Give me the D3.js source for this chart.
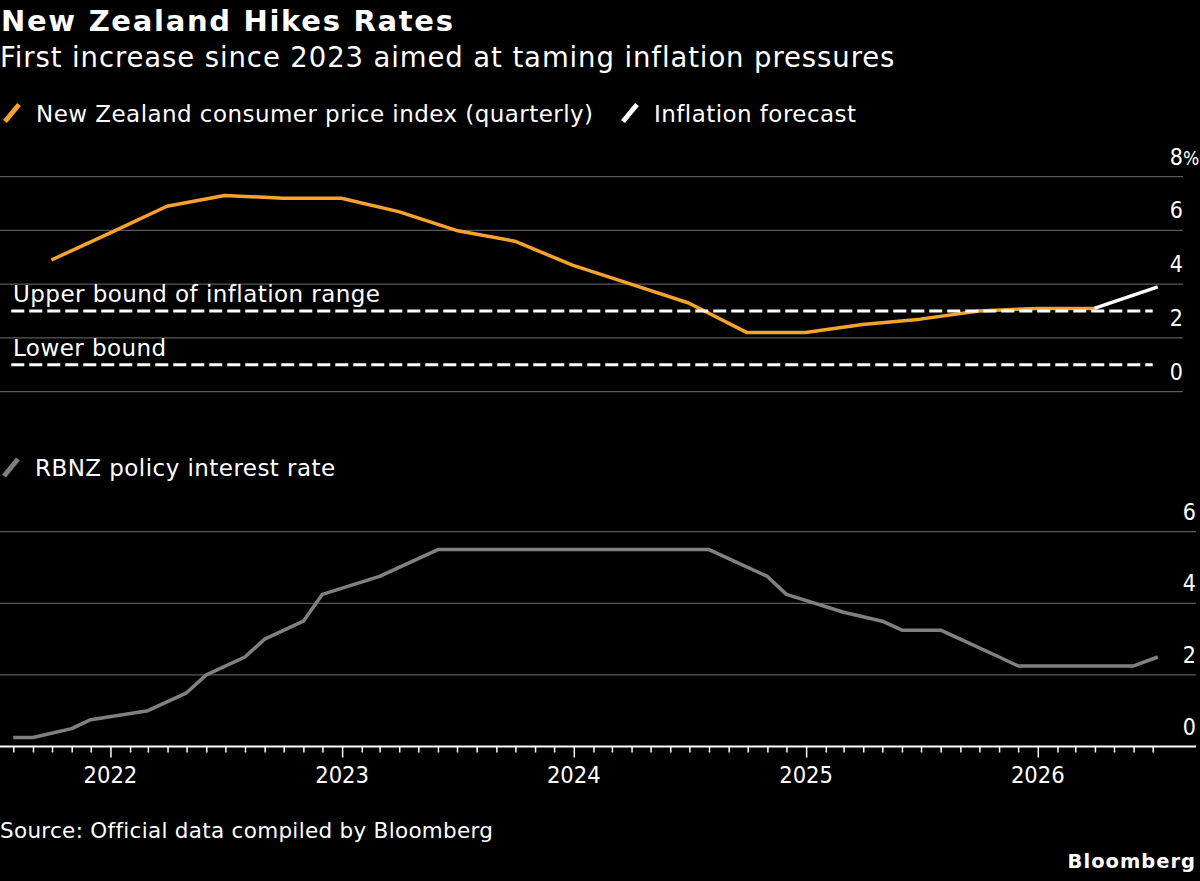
<!DOCTYPE html>
<html>
<head>
<meta charset="utf-8">
<script src="https://d3js.org/d3.v7.min.js"></script>
<style>
  body { margin: 0; background: #000; }
  svg { display: block; }
  text { font-family: "DejaVu Sans", sans-serif; fill: #fff; }
  .tick-label { font-family: "DejaVu Sans Condensed", "DejaVu Sans", sans-serif; }
</style>
</head>
<body>
<script>
// ---- data ----
const cpiDates = ["2021-09-30", "2021-12-31", "2022-03-31", "2022-06-30", "2022-09-30", "2022-12-31",
                  "2023-03-31", "2023-06-30", "2023-09-30", "2023-12-31", "2024-03-31", "2024-06-30",
                  "2024-09-30", "2024-12-31", "2025-03-31", "2025-06-30", "2025-09-30", "2025-12-31",
                  "2026-03-31"];
const cpiValues = [4.9, 5.9, 6.9, 7.3, 7.2, 7.2, 6.7, 6.0, 5.6, 4.7, 4.0, 3.3,
                   2.2, 2.2, 2.5, 2.7, 3.0, 3.1, 3.1];

const forecastDates = ["2026-03-31", "2026-07-09"];
const forecastValues = [3.1, 3.9];

const ocrDates = ["2021-08-01", "2021-09-01", "2021-11-01", "2021-12-01", "2022-03-01", "2022-05-01",
                  "2022-06-01", "2022-08-01", "2022-09-01", "2022-11-01", "2022-12-01", "2023-03-01",
                  "2023-05-01", "2023-06-01", "2024-08-01", "2024-09-01", "2024-11-01", "2024-12-01",
                  "2025-03-01", "2025-05-01", "2025-06-01", "2025-08-01", "2025-09-01", "2025-11-01",
                  "2025-12-01", "2026-06-01", "2026-07-09"];
const ocrValues = [0.25, 0.25, 0.5, 0.75, 1.0, 1.5,
                   2.0, 2.5, 3.0, 3.5, 4.25, 4.75,
                   5.25, 5.5, 5.5, 5.25, 4.75, 4.25,
                   3.75, 3.5, 3.25, 3.25, 3.0, 2.5,
                   2.25, 2.25, 2.5];

const bandValues = [3, 1];
const bandLabels = ["Upper bound of inflation range", "Lower bound"];

const topTicks = [0, 2, 4, 6, 8];
const bottomTicks = [0, 2, 4, 6];
const yearLabels = ["2022", "2023", "2024", "2025", "2026"];

const orange = "#f7a12f";
const grey = "#808080";
const gridColor = "#5a5a5a";

// ---- setup ----
const svg = d3.select("body").append("svg")
  .attr("width", 1200)
  .attr("height", 881);

svg.append("rect").attr("width", 1200).attr("height", 881).attr("fill", "#000");

const parse = d3.utcParse("%Y-%m-%d");
const zip = (dates, values) => dates.map((d, i) => ({ date: parse(d), value: values[i] }));

const cpi = zip(cpiDates, cpiValues);
const forecast = zip(forecastDates, forecastValues);
const ocr = zip(ocrDates, ocrValues);

const x = d3.scaleUtc()
  .domain([parse("2021-08-01"), parse("2026-07-01")])
  .range([13.3, 1152.7]);

const yTop = d3.scaleLinear().domain([0, 8]).range([391.7, 176.7]);
const yBottom = d3.scaleLinear().domain([0, 6]).range([746.5, 531.7]);

// ---- header ----
svg.append("text")
  .attr("x", 1).attr("y", 31)
  .attr("font-size", 29).attr("font-weight", "bold").attr("letter-spacing", 1.7)
  .text("New Zealand Hikes Rates");

svg.append("text")
  .attr("x", 0).attr("y", 66.7)
  .attr("font-size", 27.5).attr("letter-spacing", 0.9)
  .text("First increase since 2023 aimed at taming inflation pressures");

function legendItem(x0, y0, color, label) {
  svg.append("line")
    .attr("x1", x0 + 3).attr("y1", y0)
    .attr("x2", x0 + 17).attr("y2", y0 - 17)
    .attr("stroke", color).attr("stroke-width", 5);
  svg.append("text")
    .attr("x", x0 + 34).attr("y", y0)
    .attr("font-size", 23).attr("letter-spacing", 0.45)
    .text(label);
}

legendItem(2, 121.5, orange, "New Zealand consumer price index (quarterly)");
legendItem(620, 121.5, "#fff", "Inflation forecast");
legendItem(1, 476, grey, "RBNZ policy interest rate");

// ---- top panel: inflation ----
const topPanel = svg.append("g");

topPanel.selectAll(".grid")
  .data(topTicks)
  .join("line")
  .attr("x1", 0).attr("x2", 1183)
  .attr("y1", d => yTop(d)).attr("y2", d => yTop(d))
  .attr("stroke", gridColor).attr("stroke-width", 1.3);

topPanel.selectAll(".ylab")
  .data(topTicks)
  .join("text")
  .attr("class", "tick-label")
  .attr("x", 1183).attr("y", d => yTop(d) - 12)
  .attr("text-anchor", "end")
  .attr("font-size", 23)
  .text(d => d);

topPanel.append("text")
  .attr("class", "tick-label")
  .attr("x", 1183).attr("y", yTop(8) - 12)
  .attr("font-size", 19)
  .text("%");

const lineTop = d3.line().x(d => x(d.date)).y(d => yTop(d.value));

topPanel.append("path")
  .datum(cpi)
  .attr("d", lineTop)
  .attr("fill", "none").attr("stroke", orange).attr("stroke-width", 3.5)
  .attr("stroke-linejoin", "round");

topPanel.append("path")
  .datum(forecast)
  .attr("d", lineTop)
  .attr("fill", "none").attr("stroke", "#fff").attr("stroke-width", 3.5)
  .attr("stroke-linejoin", "round");

topPanel.selectAll(".band")
  .data(bandValues)
  .join("line")
  .attr("x1", x.range()[0] - 2).attr("x2", x.range()[1])
  .attr("y1", d => yTop(d)).attr("y2", d => yTop(d))
  .attr("stroke", "#fff").attr("stroke-width", 3)
  .attr("stroke-dasharray", "13,5");

topPanel.selectAll(".bandlab")
  .data(bandValues)
  .join("text")
  .attr("x", 13).attr("y", d => yTop(d) - 9)
  .attr("font-size", 23).attr("letter-spacing", 0.45)
  .text((d, i) => bandLabels[i]);

// ---- bottom panel: policy rate ----
const bottomPanel = svg.append("g");

bottomPanel.selectAll(".grid")
  .data(bottomTicks.filter(d => d > 0))
  .join("line")
  .attr("x1", 0).attr("x2", 1196)
  .attr("y1", d => yBottom(d)).attr("y2", d => yBottom(d))
  .attr("stroke", gridColor).attr("stroke-width", 1.3);

bottomPanel.selectAll(".ylab")
  .data(bottomTicks)
  .join("text")
  .attr("class", "tick-label")
  .attr("x", 1196).attr("y", d => yBottom(d) - 12)
  .attr("text-anchor", "end")
  .attr("font-size", 23)
  .text(d => d);

const lineBottom = d3.line().x(d => x(d.date)).y(d => yBottom(d.value));

bottomPanel.append("path")
  .datum(ocr)
  .attr("d", lineBottom)
  .attr("fill", "none").attr("stroke", grey).attr("stroke-width", 3.5)
  .attr("stroke-linejoin", "round");

// x axis
const axisG = svg.append("g").attr("transform", `translate(0,${yBottom(0)})`);

axisG.call(d3.axisBottom(x).ticks(d3.utcMonth.every(1)).tickSize(6).tickFormat(""));
axisG.select(".domain").remove();
axisG.selectAll(".tick line")
  .attr("stroke", "#fff").attr("stroke-width", 1.5)
  .attr("y2", d => d.getUTCMonth() === 0 ? 11 : 6);

axisG.append("line")
  .attr("x1", 0).attr("x2", 1196)
  .attr("stroke", "#fff").attr("stroke-width", 2);

axisG.selectAll(".year")
  .data(yearLabels)
  .join("text")
  .attr("class", "tick-label")
  .attr("x", d => x(parse(d + "-01-01")))
  .attr("y", 36.5)
  .attr("text-anchor", "middle")
  .attr("font-size", 23.5)
  .text(d => d);

// ---- footer ----
svg.append("text")
  .attr("x", 0).attr("y", 838)
  .attr("font-size", 21.5).attr("letter-spacing", 0.3)
  .text("Source: Official data compiled by Bloomberg");

svg.append("text")
  .attr("x", 1196).attr("y", 868)
  .attr("text-anchor", "end")
  .attr("font-size", 19.5).attr("font-weight", "bold").attr("letter-spacing", 1)
  .text("Bloomberg");
</script>
</body>
</html>
